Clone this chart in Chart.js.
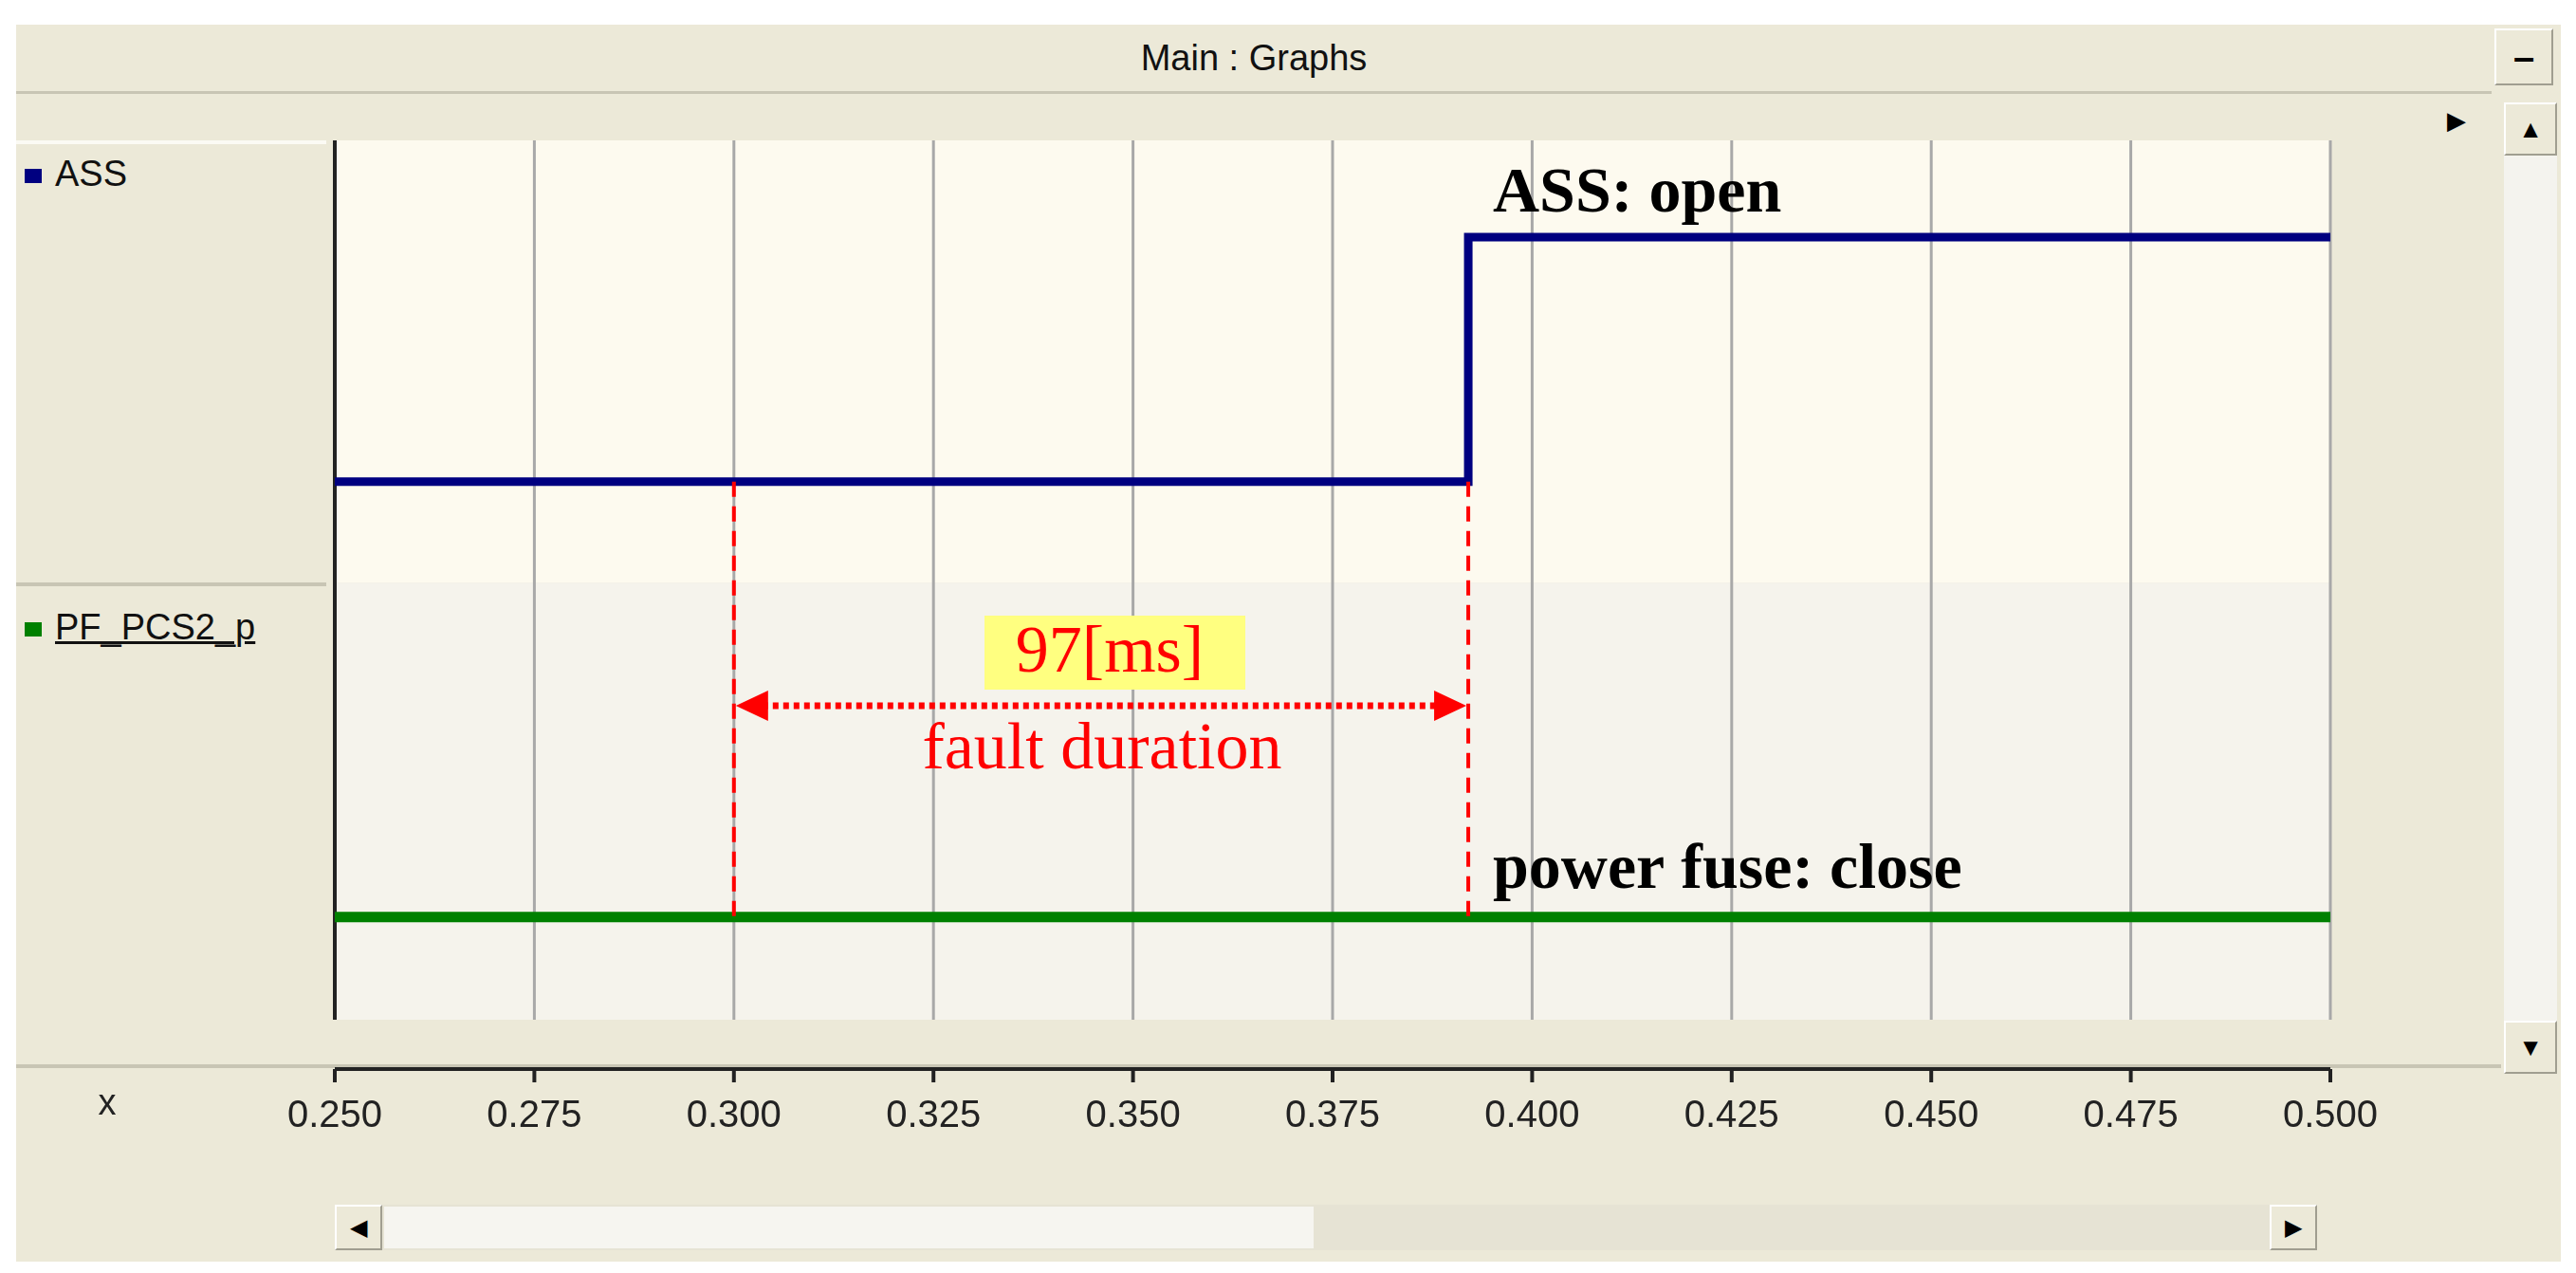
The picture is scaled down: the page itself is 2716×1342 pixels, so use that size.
<!DOCTYPE html>
<html>
<head>
<meta charset="utf-8">
<script src="https://cdn.jsdelivr.net/npm/chart.js@4.4.0/dist/chart.umd.min.js"></script>
<style>
  body { margin: 0; background: #fff; width: 2716px; height: 1342px; overflow: hidden; font-family: "Liberation Sans", Arial, sans-serif; }
  .win { position: absolute; left: 17px; top: 26px; width: 2683px; height: 1304px; background: #ece9d8; }
  .titlebar { position: absolute; left: 17px; top: 26px; width: 2610px; height: 70px; background: #ece9d8; border-bottom: 3px solid #c8c5b4;
              text-align: center; line-height: 70px; font-size: 38px; color: #111; }
  .btn { position: absolute; background: #ece9d8; border: 2px solid #fff; border-right-color: #a09e90; border-bottom-color: #a09e90; box-sizing: border-box; text-align: center; color: #000; }
  .legpane { position: absolute; left: 17px; width: 327px; background: #ece9d8; border-top: 4px solid #fbfaf4; box-sizing: border-box; }
  .leg { position: absolute; left: 26px; font-size: 38px; color: #111; }
  .leg span.sq { display: inline-block; width: 18px; height: 15px; margin-right: 14px; vertical-align: middle; }
  #wrap { position: absolute; left: 0; top: 0; width: 2716px; height: 1342px; }
</style>
</head>
<body>
<div class="win"></div>
<div class="titlebar">Main : Graphs</div>
<div class="btn" style="left:2630px;top:30px;width:62px;height:60px;line-height:56px;font-size:40px;font-weight:bold;">&#8211;</div>
<div class="legpane" style="top:148px;height:466px;"></div>
<div class="legpane" style="top:614px;height:461px;border-top-color:#c8c5b4;"></div>
<div class="leg" style="top:162px;"><span class="sq" style="background:#000080"></span>ASS</div>
<div class="leg" style="top:640px;"><span class="sq" style="background:#008000"></span><u>PF_PCS2_p</u></div>
<div class="btn" style="left:2640px;top:108px;width:56px;height:56px;font-size:26px;line-height:52px;">&#9650;</div>
<div class="btn" style="left:2640px;top:1076px;width:56px;height:56px;font-size:26px;line-height:52px;">&#9660;</div>
<div style="position:absolute;left:2640px;top:164px;width:56px;height:912px;background:#f4f3ee;"></div>
<div style="position:absolute;left:2580px;top:112px;font-size:26px;">&#9654;</div>
<div style="position:absolute;left:17px;top:1122px;width:2620px;height:4px;background:#c8c5b4;"></div>
<div style="position:absolute;left:353px;top:1270px;width:2090px;height:48px;background:#e6e3d4;"></div>
<div style="position:absolute;left:405px;top:1272px;width:980px;height:44px;background:#f6f5f0;"></div>
<div class="btn" style="left:353px;top:1270px;width:50px;height:48px;font-size:24px;line-height:44px;">&#9664;</div>
<div class="btn" style="left:2393px;top:1270px;width:50px;height:48px;font-size:24px;line-height:44px;">&#9654;</div>
<div id="wrap"><canvas id="c"></canvas></div>
<script>
// time axis (s)
const xTicks = [0.250, 0.275, 0.300, 0.325, 0.350, 0.375, 0.400, 0.425, 0.450, 0.475, 0.500];
// ASS switch state: 0 = closed, 1 = open (step at ~0.392 s)
const assTime = [0.250, 0.392, 0.500];
const assState = [0, 1, 1];
// power fuse state: stays closed
const pfTime = [0.250, 0.500];
const pfState = [0, 0];
// fault window
const faultStart = 0.300;
const faultEnd = 0.392;

const toPoints = (xs, ys) => xs.map((x, i) => ({ x: x, y: ys[i] }));

// panes, dashed markers, arrow and text labels
const overlay = {
    id: 'overlay',
    beforeDatasetsDraw(chart) {
        const { ctx, chartArea: a, scales } = chart;
        const mid = a.top + (a.bottom - a.top) * 0.503;
        ctx.save();
        ctx.fillStyle = '#fdfaef';
        ctx.fillRect(a.left, a.top, a.right - a.left, mid - a.top);
        ctx.fillStyle = '#f5f3ec';
        ctx.fillRect(a.left, mid, a.right - a.left, a.bottom - mid);
        // grid
        xTicks.forEach((t, i) => {
            const px = scales.x.getPixelForValue(t);
            ctx.strokeStyle = i === 0 ? '#222' : '#a8a8a8';
            ctx.lineWidth = i === 0 ? 4 : 3;
            ctx.beginPath();
            ctx.moveTo(px, a.top);
            ctx.lineTo(px, a.bottom);
            ctx.stroke();
        });
        // bottom axis line and tick marks
        const axY = a.bottom + 52;
        ctx.strokeStyle = '#222';
        ctx.lineWidth = 4;
        ctx.beginPath();
        ctx.moveTo(scales.x.left, axY);
        ctx.lineTo(scales.x.right, axY);
        ctx.stroke();
        xTicks.forEach(t => {
            const px = scales.x.getPixelForValue(t);
            ctx.beginPath();
            ctx.moveTo(px, axY);
            ctx.lineTo(px, axY + 14);
            ctx.stroke();
        });
        ctx.fillStyle = '#222';
        ctx.font = '38px "Liberation Sans", Arial';
        ctx.textAlign = 'center';
        ctx.textBaseline = 'middle';
        ctx.fillText('x', 113, a.bottom + 90);
        ctx.restore();
    },
    afterDatasetsDraw(chart) {
        const { ctx, scales } = chart;
        const x0 = scales.x.getPixelForValue(faultStart);
        const x1 = scales.x.getPixelForValue(faultEnd);
        const yTop = scales.y1.getPixelForValue(0);
        const yBot = scales.y2.getPixelForValue(0);
        ctx.save();
        ctx.strokeStyle = '#ff0000';
        ctx.lineWidth = 4;
        ctx.setLineDash([16, 10]);
        [x0, x1].forEach(px => {
            ctx.beginPath();
            ctx.moveTo(px, yTop);
            ctx.lineTo(px, yBot);
            ctx.stroke();
        });
        // double arrow
        const ay = 744;
        ctx.setLineDash([6, 5]);
        ctx.lineWidth = 7;
        ctx.beginPath();
        ctx.moveTo(x0 + 30, ay);
        ctx.lineTo(x1 - 30, ay);
        ctx.stroke();
        ctx.setLineDash([]);
        ctx.fillStyle = '#ff0000';
        [[x0, 1], [x1, -1]].forEach(([px, d]) => {
            ctx.beginPath();
            ctx.moveTo(px + 2 * d, ay);
            ctx.lineTo(px + 36 * d, ay - 16);
            ctx.lineTo(px + 36 * d, ay + 16);
            ctx.closePath();
            ctx.fill();
        });
        // 97[ms] label
        ctx.fillStyle = '#ffff80';
        ctx.fillRect(1038, 649, 275, 78);
        ctx.fillStyle = '#ff0000';
        ctx.font = '70px "Liberation Serif", serif';
        ctx.textAlign = 'center';
        ctx.textBaseline = 'middle';
        ctx.fillText('97[ms]', 1170, 690);
        ctx.fillText('fault duration', 1162, 792);
        // state labels
        ctx.fillStyle = '#000';
        ctx.font = 'bold 68px "Liberation Serif", serif';
        ctx.textAlign = 'left';
        ctx.fillText('ASS: open', 1574, 205);
        ctx.fillText('power fuse: close', 1574, 918);
        ctx.restore();
    }
};

new Chart(document.getElementById('c'), {
    type: 'line',
    data: {
        datasets: [{
            label: 'ASS',
            data: toPoints(assTime, assState),
            stepped: 'before',
            borderColor: '#000080',
            borderWidth: 9,
            pointRadius: 0,
            yAxisID: 'y1'
        }, {
            label: 'PF_PCS2_p',
            data: toPoints(pfTime, pfState),
            borderColor: '#008000',
            borderWidth: 11,
            pointRadius: 0,
            yAxisID: 'y2'
        }]
    },
    options: {
        responsive: true,
        maintainAspectRatio: false,
        animation: false,
        layout: { padding: { left: 353, right: 259, top: 148, bottom: 0 } },
        plugins: { legend: { display: false }, tooltip: { enabled: false } },
        scales: {
            x: {
                type: 'linear',
                min: 0.25,
                max: 0.5,
                afterBuildTicks: scale => { scale.ticks = xTicks.map(v => ({ value: v })); },
                afterFit: scale => { scale.height = 267; },
                grid: { display: false },
                border: { display: false },
                ticks: {
                    padding: 70,
                    color: '#222',
                    font: { family: '"Liberation Sans", Arial', size: 40 },
                    callback: v => v.toFixed(3)
                }
            },
            y1: { display: false, min: -2.2, max: 1.396 },
            y2: { display: false, min: -0.42, max: 3.18 }
        }
    },
    plugins: [overlay]
});
</script>
</body>
</html>
